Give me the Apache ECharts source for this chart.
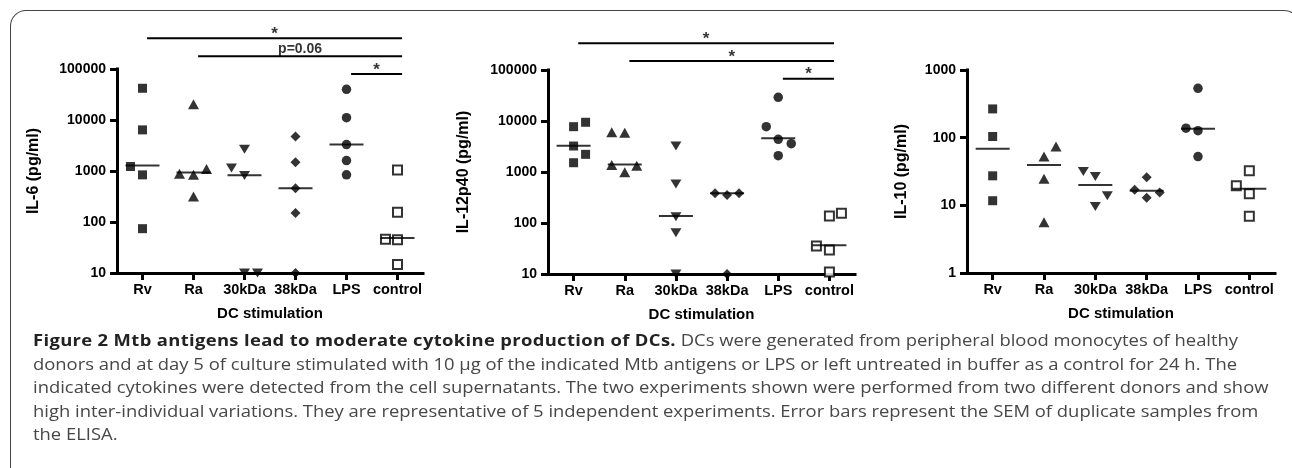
<!DOCTYPE html>
<html>
<head>
<meta charset="utf-8">
<title>Figure 2 - cytokine production of DCs</title>
<script src="https://cdn.jsdelivr.net/npm/echarts@6/dist/echarts.min.js"></script>
<style>
  html, body { margin: 0; padding: 0; background: #fff; }
  #wrap { position: relative; width: 1292px; height: 468px; overflow: hidden; }
  #frame { position: absolute; left: 10px; top: 10px; width: 1290px; height: 520px;
           border: 1.5px solid #444; border-bottom: none; border-radius: 16px 16px 0 0;
           box-sizing: border-box; }
  #chart { position: absolute; left: 0; top: 0; width: 1292px; height: 468px; }
  #caption { position: absolute; left: 33px; top: 329px; font-family: 'Open Sans', sans-serif;
             font-size: 16px; line-height: 23.6px; color: #474747; white-space: nowrap;
             transform: scaleX(1.15); transform-origin: 0 0; }
  #caption b { color: #222; letter-spacing: 0.3px; }
</style>
</head>
<body>
<div id="wrap">
  <div id="frame"></div>
  <div id="chart"></div>
  <div id="caption">
    <b>Figure 2 Mtb antigens lead to moderate cytokine production of DCs.</b> DCs were generated from peripheral blood monocytes of healthy<br>
    donors and at day 5 of culture stimulated with 10 µg of the indicated Mtb antigens or LPS or left untreated in buffer as a control for 24 h. The<br>
    indicated cytokines were detected from the cell supernatants. The two experiments shown were performed from two different donors and show<br>
    high inter-individual variations. They are representative of 5 independent experiments. Error bars represent the SEM of duplicate samples from<br>
    the ELISA.
  </div>
</div>
<script>
// ---- data (pg/ml), one inner list per stimulation, same order as categories ----
var categories = ['Rv', 'Ra', '30kDa', '38kDa', 'LPS', 'control'];

var il6Values = [
  [41900, 6400, 1225, 840, 74],
  [20300, 880, 840, 1100, 316],
  [2680, 1140, 816, 10, 10],
  [4730, 1490, 461, 150, 10],
  [40000, 11100, 3300, 1600, 840],
  [1050, 156, 46, 45, 14.6]
];
var il6Medians = [1280, 930, 830, 461, 3300, 48.5];
var il6CompareFrom = ['Rv', 'Ra', 'LPS'];
var il6CompareTo = ['control', 'control', 'control'];
var il6CompareText = ['*', 'p=0.06', '*'];

var il12Values = [
  [7740, 9440, 3230, 2220, 1520],
  [6000, 5900, 1370, 1330, 985],
  [3230, 582, 133, 64.6, 10],
  [382, 355, 382, 10],
  [29100, 7740, 4380, 3590, 2090],
  [137, 155, 35.4, 29.6, 11]
];
var il12Medians = [3280, 1410, 137, 382, 4570, 36.6];
var il12CompareFrom = ['Rv', 'Ra', 'LPS'];
var il12CompareTo = ['control', 'control', 'control'];
var il12CompareText = ['*', '*', '*'];

var il10Values = [
  [266, 104, 27.3, 11.7],
  [74, 52.6, 24.7, 5.6],
  [31.6, 26.7, 13.9, 9.6],
  [26.1, 17, 15.5, 12.9],
  [537, 138, 127, 52.6],
  [32.4, 19.5, 14.8, 6.9]
];
var il10Medians = [68.4, 39.3, 19.9, 16.4, 136, 17.6];

// ---- layout: horizontal spread of overlapping points (px), like the prism scatter ----
var il6Spread = [[0,0,-12,0,0],[0,-14,0,13,0],[0,-13,0,0,13],[0,0,0,0,0],[0,0,0,0,0],[0,0,-12,0,0]];
var il12Spread = [[0,12,0,12,0],[-13,0,-13,12,0],[0,0,0,0,0],[-12,0,12,0],[0,-12,0,13,0],[0,12,-13,0,0]];
var il10Spread = [[0,0,0,0],[12,0,0,0],[-12,0,12,0],[0,-12,13,0],[0,-12,0,0],[0,-13,0,0]];

var black = '#000';
var axisFont = 'Liberation Sans, Arial, sans-serif';
var axisWidth = 3;
var markers = [
  { symbol: 'rect', size: 9, rotate: 0, fill: black },
  { symbol: 'triangle', size: [11, 10], rotate: 0, fill: black },
  { symbol: 'triangle', size: [11, 9], rotate: 180, fill: black },
  { symbol: 'diamond', size: [10, 10], rotate: 0, fill: black },
  { symbol: 'circle', size: 9.5, rotate: 0, fill: black },
  { symbol: 'rect', size: 9, rotate: 0, fill: '#fff' }
];

var grids = [], xAxes = [], yAxes = [], series = [];

function addPanel(p) {
  var gi = grids.length;
  grids.push({ left: p.left, top: p.top, width: p.width, height: p.height });
  xAxes.push({
    type: 'category', gridIndex: gi, data: categories, boundaryGap: true,
    axisLine: { show: true, lineStyle: { color: black, width: axisWidth, cap: 'square' } },
    axisTick: { show: true, alignWithLabel: true, length: 7, lineStyle: { color: black, width: axisWidth } },
    axisLabel: { interval: 0, margin: 9, color: black, fontFamily: axisFont, fontWeight: 'bold', fontSize: 14.5 },
    splitLine: { show: false },
    name: 'DC stimulation', nameLocation: 'middle', nameGap: 33,
    nameTextStyle: { color: black, fontFamily: axisFont, fontWeight: 'bold', fontSize: 15 }
  });
  yAxes.push({
    type: 'log', logBase: 10, gridIndex: gi, min: p.min, max: p.max,
    axisLine: { show: true, lineStyle: { color: black, width: axisWidth, cap: 'square' } },
    axisTick: { show: true, length: 7, lineStyle: { color: black, width: axisWidth } },
    axisLabel: { margin: 11, color: black, fontFamily: axisFont, fontWeight: 'bold', fontSize: 14,
                 formatter: function (v) { return String(Math.round(v)); } },
    splitLine: { show: false },
    name: p.yName, nameLocation: 'middle', nameGap: p.nameGap, nameRotate: 90,
    nameTextStyle: { color: black, fontFamily: axisFont, fontWeight: 'bold', fontSize: 16 }
  });

  p.values.forEach(function (vals, ci) {
    var m = markers[ci];
    series.push({
      type: 'scatter', xAxisIndex: gi, yAxisIndex: gi, silent: true, z: 3,
      symbol: m.symbol, symbolSize: m.size, symbolRotate: m.rotate,
      itemStyle: { color: m.fill, borderColor: black, borderWidth: m.fill === black ? 0 : 2 },
      data: vals.map(function (v, k) {
        return { value: [categories[ci], v], symbolOffset: [p.spread[ci][k] || 0, 0] };
      })
    });
  });

  // median bars
  series.push({
    type: 'scatter', xAxisIndex: gi, yAxisIndex: gi, silent: true, z: 4,
    symbol: 'rect', symbolSize: [34, 2], itemStyle: { color: black },
    data: p.medians.map(function (v, ci) { return [categories[ci], v]; })
  });

  if (!p.compareFrom) return;
  // significance bars in a separate strip above the plot, same category spacing
  var ai = grids.length;
  grids.push({ left: p.left, top: p.annoTop, width: p.width, height: p.annoHeight });
  xAxes.push({ type: 'value', gridIndex: ai, min: -0.5, max: categories.length - 0.5, show: false });
  yAxes.push({ type: 'value', gridIndex: ai, min: 0, max: 4, show: false });
  var shift = 0.09;
  p.compareFrom.forEach(function (from, k) {
    var level = p.compareFrom.length - k;
    var x0 = categories.indexOf(from) + shift;
    var x1 = categories.indexOf(p.compareTo[k]) + shift;
    series.push({
      type: 'line', xAxisIndex: ai, yAxisIndex: ai, silent: true, symbol: 'none',
      lineStyle: { color: black, width: 2 },
      data: [[x0, level], [x1, level]]
    });
    var isStar = p.compareText[k] === '*';
    series.push({
      type: 'scatter', xAxisIndex: ai, yAxisIndex: ai, silent: true, symbolSize: 1,
      itemStyle: { color: 'rgba(0,0,0,0)' },
      label: { show: true, position: 'top', distance: isStar ? -5 : 0, formatter: p.compareText[k],
               color: black, fontFamily: axisFont, fontWeight: 'bold', fontSize: isStar ? 17 : 14 },
      data: [[(x0 + x1) / 2, level]]
    });
  });
}

addPanel({ left: 117, top: 69, width: 306, height: 204, min: 10, max: 100000,
  yName: 'IL-6 (pg/ml)', nameGap: 75, values: il6Values, medians: il6Medians, spread: il6Spread,
  compareFrom: il6CompareFrom, compareTo: il6CompareTo, compareText: il6CompareText,
  annoTop: 20.5, annoHeight: 71.4 });
addPanel({ left: 548, top: 70, width: 307, height: 204, min: 10, max: 100000,
  yName: 'IL-12p40 (pg/ml)', nameGap: 76, values: il12Values, medians: il12Medians, spread: il12Spread,
  compareFrom: il12CompareFrom, compareTo: il12CompareTo, compareText: il12CompareText,
  annoTop: 25.6, annoHeight: 70.8 });
addPanel({ left: 967, top: 70, width: 308, height: 203, min: 1, max: 1000,
  yName: 'IL-10 (pg/ml)', nameGap: 57, values: il10Values, medians: il10Medians, spread: il10Spread });

var chart = echarts.init(document.getElementById('chart'), null, { renderer: 'canvas' });
chart.setOption({
  animation: false,
  backgroundColor: 'transparent',
  grid: grids,
  xAxis: xAxes,
  yAxis: yAxes,
  series: series
});
</script>
</body>
</html>
